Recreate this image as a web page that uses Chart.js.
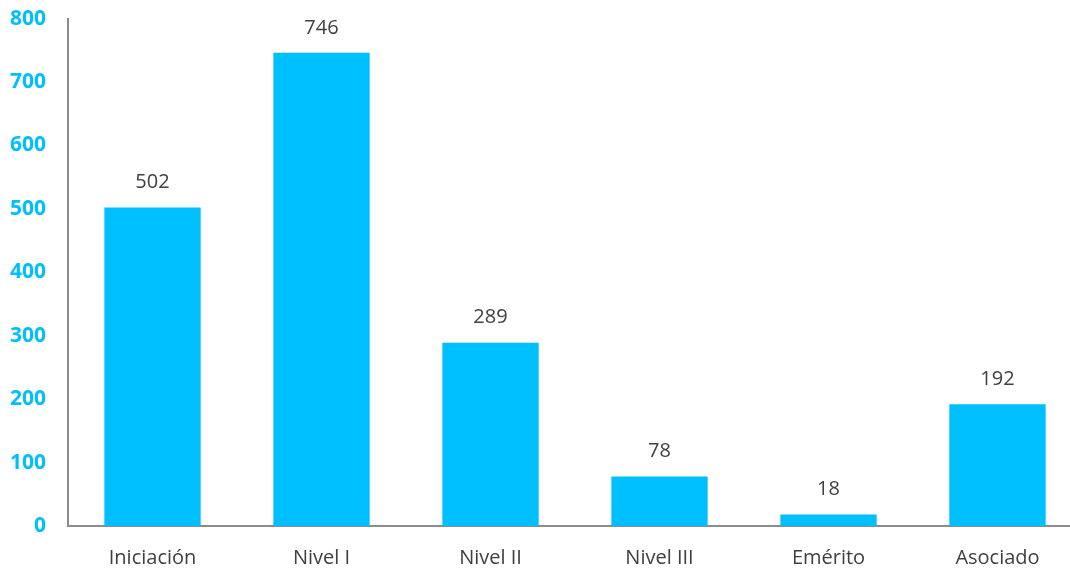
<!DOCTYPE html>
<html>
<head>
<meta charset="utf-8">
<script src="https://cdn.jsdelivr.net/npm/chart.js@4/dist/chart.umd.min.js"></script>
<style>
  html, body { margin: 0; padding: 0; background: #fff; overflow: hidden; }
  #wrap { position: absolute; left: -4px; top: -8px; width: 1088px; height: 590px; }
</style>
</head>
<body>
<div id="wrap"><canvas id="chart"></canvas></div>
<script>
// Data
const categories = ['Iniciación', 'Nivel I', 'Nivel II', 'Nivel III', 'Emérito', 'Asociado'];
const values = [502, 746, 289, 78, 18, 192];

const barColor = '#00BFFF';
const textGray = '#404040';
const axisGray = '#8c8c8c';
const fontFamily = "'Open Sans', 'Noto Sans', sans-serif";

// Draw the value above each bar
const valueLabels = {
  id: 'valueLabels',
  afterDatasetsDraw(chart) {
    const ctx = chart.ctx;
    const meta = chart.getDatasetMeta(0);
    ctx.save();
    ctx.font = `20px ${fontFamily}`;
    ctx.fillStyle = textGray;
    ctx.textAlign = 'center';
    ctx.textBaseline = 'middle';
    meta.data.forEach((bar, i) => {
      ctx.fillText(String(values[i]), bar.x, bar.y - 25);
    });
    ctx.restore();
  }
};

new Chart(document.getElementById('chart').getContext('2d'), {
  type: 'bar',
  data: {
    labels: categories,
    datasets: [{
      data: values,
      backgroundColor: barColor,
      borderWidth: 0,
      categoryPercentage: 1,
      barPercentage: 0.57
    }]
  },
  options: {
    responsive: true,
    maintainAspectRatio: false,
    animation: false,
    layout: { padding: { left: 0, right: 2, top: 6, bottom: 0 } },
    plugins: { legend: { display: false }, tooltip: { enabled: false } },
    scales: {
      x: {
        grid: { display: false },
        border: { color: axisGray, width: 2 },
        ticks: {
          color: textGray,
          font: { family: fontFamily, size: 20 },
          padding: 12
        }
      },
      y: {
        min: 0,
        max: 800,
        grid: { display: false },
        border: { color: axisGray, width: 2 },
        ticks: {
          stepSize: 100,
          color: barColor,
          font: { family: fontFamily, size: 21, weight: 'bold' },
          padding: 14
        }
      }
    }
  },
  plugins: [valueLabels]
});
</script>
</body>
</html>
